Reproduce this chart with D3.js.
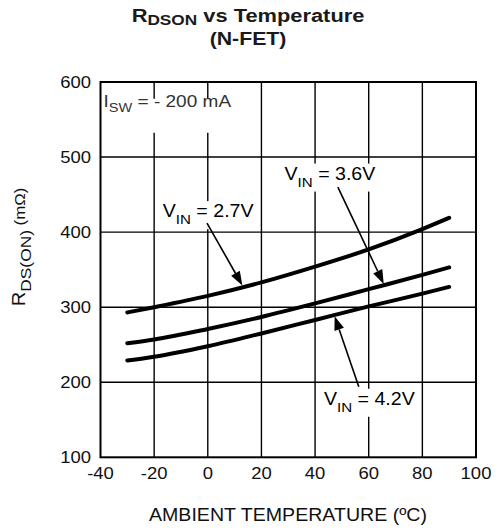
<!DOCTYPE html>
<html>
<head>
<meta charset="utf-8">
<script src="https://cdn.jsdelivr.net/npm/d3@7"></script>
<style>
  html, body { margin: 0; padding: 0; background: #fff; }
  svg { display: block; font-family: "Liberation Sans", Arial, Helvetica, sans-serif; }
</style>
</head>
<body>
<svg id="chart" width="498" height="530"></svg>
<script>
// Ambient temperature (°C) sample points
const temps = [-30, -20, 0, 20, 40, 60, 80, 90];
// On-resistance R_DS(ON) in mΩ for each input voltage
const vin27 = [293, 300, 315, 333, 354, 377, 404, 419];
const vin36 = [252, 257, 271, 287, 305, 324, 343, 353];
const vin42 = [229, 234, 248, 265, 283, 301, 318, 327];
const seriesNames = ["2.7V", "3.6V", "4.2V"];
const xTicks = [-40, -20, 0, 20, 40, 60, 80, 100];
const yTicks = [100, 200, 300, 400, 500, 600];

// Callouts: label anchor, arrow tail and arrow tip in data units (°C, mΩ)
const callouts = [
  { name: "2.7V", label: [-16.8, 420], tail: [-0.3, 412], tip: [12.9, 329] },
  { name: "3.6V", label: [28.6, 470], tail: [48.5, 460], tip: [65.6, 331] },
  { name: "4.2V", label: [43.3, 170], tail: [56.3, 194], tip: [47.3, 288] }
];

const svg = d3.select("#chart");
const x = d3.scaleLinear().domain([-40, 100]).range([100.5, 476]);
const y = d3.scaleLinear().domain([100, 600]).range([457.3, 82]);
const SX = 1.12; // horizontal stretch of the lettering

function placeText(sel, px, py, sx = SX) {
  return sel.attr("transform", `translate(${px},${py}) scale(${sx},1)`);
}

// Grid
const grid = svg.append("g").attr("stroke", "#000").attr("stroke-width", 1.4);
grid.selectAll("line.v").data(xTicks.slice(1, -1)).join("line")
  .attr("x1", d => x(d)).attr("x2", d => x(d))
  .attr("y1", y(600)).attr("y2", y(100));
grid.selectAll("line.h").data(yTicks.slice(1, -1)).join("line")
  .attr("x1", x(-40)).attr("x2", x(100))
  .attr("y1", d => y(d)).attr("y2", d => y(d));

// Frame
svg.append("rect")
  .attr("x", x(-40)).attr("y", y(600))
  .attr("width", x(100) - x(-40)).attr("height", y(100) - y(600))
  .attr("fill", "none").attr("stroke", "#000").attr("stroke-width", 2);

// Axis tick labels
svg.append("g").selectAll("text").data(xTicks).join("text")
  .each(function (d) { placeText(d3.select(this), x(d), 478.5); })
  .attr("text-anchor", "middle").attr("font-size", 16.5).attr("fill", "#111")
  .text(d => d);
svg.append("g").selectAll("text").data(yTicks).join("text")
  .each(function (d) { placeText(d3.select(this), 91, y(d) + 6); })
  .attr("text-anchor", "end").attr("font-size", 16.5).attr("fill", "#111")
  .text(d => d);

// Curves
const line = d3.line().x((d, i) => x(temps[i])).y(d => y(d)).curve(d3.curveMonotoneX);
svg.append("g").selectAll("path").data([vin27, vin36, vin42]).join("path")
  .attr("d", d => line(d))
  .attr("fill", "none").attr("stroke", "#000").attr("stroke-width", 4)
  .attr("stroke-linecap", "round");

// Operating condition label
const isw = svg.append("g");
isw.append("rect").attr("x", x(-40) + 2).attr("y", y(575) - 2)
  .attr("width", 148).attr("height", 34).attr("fill", "#fff");
const iswText = placeText(isw.append("text"), x(-40) + 3, y(567))
  .attr("font-size", 17).attr("fill", "#333");
iswText.append("tspan").text("I");
iswText.append("tspan").attr("font-size", 13).attr("dy", 5).text("SW");
iswText.append("tspan").attr("dy", -5).text(" = - 200 mA");

// Callouts with arrows
const cg = svg.append("g");
callouts.forEach(c => {
  const lx = x(c.label[0]), ly = y(c.label[1]);
  const g = cg.append("g");
  const bg = g.append("rect").attr("fill", "#fff");
  const t = placeText(g.append("text"), lx, ly).attr("font-size", 17.5).attr("fill", "#000");
  t.append("tspan").text("V");
  t.append("tspan").attr("font-size", 13.5).attr("dy", 7).text("IN");
  t.append("tspan").attr("dy", -7).text(" = " + c.name);
  const bb = t.node().getBBox();
  bg.attr("x", lx - 3).attr("y", ly - 16).attr("width", bb.width * SX + 6).attr("height", 28);

  const x0 = x(c.tail[0]), y0 = y(c.tail[1]);
  const x1 = x(c.tip[0]), y1 = y(c.tip[1]);
  const ang = Math.atan2(y1 - y0, x1 - x0);
  const L = 14, W = 5;
  const bx = x1 - L * Math.cos(ang), by = y1 - L * Math.sin(ang);
  g.append("line").attr("x1", x0).attr("y1", y0).attr("x2", bx).attr("y2", by)
    .attr("stroke", "#000").attr("stroke-width", 1.6);
  g.append("path")
    .attr("d", `M${x1},${y1}L${bx + W * Math.sin(ang)},${by - W * Math.cos(ang)}L${bx - W * Math.sin(ang)},${by + W * Math.cos(ang)}Z`)
    .attr("fill", "#000");
});

// Title
const t1 = placeText(svg.append("text"), 248, 22, 1.15)
  .attr("text-anchor", "middle").attr("font-size", 19).attr("font-weight", "bold").attr("fill", "#1a1a1a");
t1.append("tspan").text("R");
t1.append("tspan").attr("font-size", 15).attr("dy", 3).text("DSON");
t1.append("tspan").attr("dy", -3).text(" vs Temperature");
placeText(svg.append("text"), 248, 45)
  .attr("text-anchor", "middle").attr("font-size", 19).attr("font-weight", "bold").attr("fill", "#1a1a1a")
  .text("(N-FET)");

// Axis titles
placeText(svg.append("text"), 288, 521)
  .attr("text-anchor", "middle").attr("font-size", 17.5).attr("fill", "#111")
  .text("AMBIENT TEMPERATURE (ºC)");

const yt = svg.append("text")
  .attr("transform", `translate(25,247) rotate(-90) scale(${SX},1)`)
  .attr("text-anchor", "middle").attr("font-size", 18).attr("fill", "#111");
yt.append("tspan").text("R");
yt.append("tspan").attr("font-size", 15.5).attr("dy", 6).text("DS(ON)");
yt.append("tspan").attr("font-size", 15).attr("dy", -6).text(" (mΩ)");
</script>
</body>
</html>
